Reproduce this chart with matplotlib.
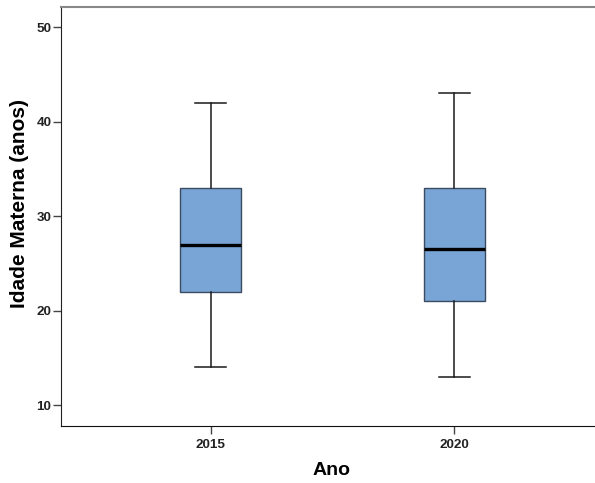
import matplotlib
matplotlib.use('Agg')
import matplotlib.pyplot as plt

plt.rcParams['font.family'] = ['Liberation Sans', 'DejaVu Sans']

anos = ['2015', '2020']
# resumo de cinco numeros (min, Q1, mediana, Q3, max)
minimo = [14, 13]
q1 = [22, 21]
mediana = [27, 26.5]
q3 = [33, 33]
maximo = [42, 43]

stats = []
for i, a in enumerate(anos):
    stats.append({'label': a, 'whislo': minimo[i], 'q1': q1[i], 'med': mediana[i],
                  'q3': q3[i], 'whishi': maximo[i], 'fliers': []})

fig = plt.figure(figsize=(5.95, 4.83), dpi=100)
ax = fig.add_axes([61 / 595, 1 - 426 / 483, 1 - 61 / 595, (426 - 6.5) / 483])

ax.bxp(stats, positions=[1, 2], widths=0.25, patch_artist=True, showfliers=False,
       boxprops=dict(facecolor='#78a5d6', edgecolor='#3b4c60', linewidth=1.0),
       medianprops=dict(color='black', linewidth=2.4),
       whiskerprops=dict(color='#1a1a1a', linewidth=1.1),
       capprops=dict(color='#1a1a1a', linewidth=1.1),
       capwidths=0.125)

ax.set_xlim(0.387, 2.576)
ax.set_ylim(7.8, 52.2)
ax.set_yticks([10, 20, 30, 40, 50])
ax.set_xticks([1, 2])
ax.set_xticklabels(anos)

for lbl in ax.get_xticklabels() + ax.get_yticklabels():
    lbl.set_fontweight('bold')
    lbl.set_fontsize(9.7)
ax.tick_params(axis='y', length=6, width=1, color='#444444', pad=1, labelcolor='#222222')
ax.tick_params(axis='x', length=6, width=1, color='#444444', pad=3, labelcolor='#222222')

ax.spines['right'].set_visible(False)
ax.spines['top'].set_color('#888888')
ax.spines['top'].set_linewidth(1.5)
ax.spines['left'].set_color('#222222')
ax.spines['bottom'].set_color('#111111')

ax.set_ylabel('Idade Materna (anos)', fontsize=15, fontweight='bold')
ax.set_xlabel('Ano', fontsize=14, fontweight='bold')
ax.yaxis.set_label_coords(-0.060, 0.530)
ax.xaxis.set_label_coords(0.507, -0.086)

fig.savefig('out.png', dpi=100)
